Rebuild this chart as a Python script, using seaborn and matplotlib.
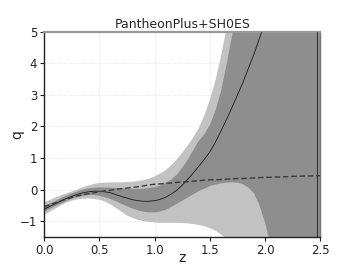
import numpy as np
import pandas as pd
import matplotlib
matplotlib.use("Agg")
import matplotlib.pyplot as plt
import seaborn as sns

# redshift grid and reconstructed deceleration parameter
z = [0.00, 0.05, 0.10, 0.15, 0.20, 0.25, 0.30, 0.35, 0.40, 0.45,
     0.50, 0.55, 0.60, 0.65, 0.70, 0.75, 0.80, 0.85, 0.90, 0.95,
     1.00, 1.05, 1.10, 1.15, 1.20, 1.25, 1.30, 1.35, 1.40, 1.45,
     1.50, 1.55, 1.60, 1.65, 1.70, 1.75, 1.80, 1.85, 1.90, 1.95,
     2.00, 2.05, 2.10, 2.15, 2.20, 2.25, 2.30, 2.35, 2.40, 2.45, 2.50]
q_mean = [-0.62, -0.53, -0.45, -0.36, -0.28, -0.21, -0.15, -0.10, -0.07, -0.05,
          -0.05, -0.07, -0.10, -0.16, -0.22, -0.27, -0.32, -0.35, -0.37, -0.37,
          -0.35, -0.31, -0.24, -0.14, -0.02, 0.14, 0.33, 0.53, 0.74, 0.96,
          1.20, 1.50, 1.85, 2.22, 2.60, 3.00, 3.40, 3.85, 4.30, 4.80,
          5.30, 5.85, 6.40, 7.00, 7.60, 8.25, 8.90, 9.60, 10.3, 11.0, 11.8]
q_lcdm = [-0.55, -0.48, -0.42, -0.36, -0.30, -0.25, -0.20, -0.16, -0.13, -0.10,
          -0.07, -0.04, -0.02, 0.01, 0.03, 0.05, 0.07, 0.09, 0.12, 0.15,
          0.17, 0.18, 0.20, 0.21, 0.23, 0.24, 0.25, 0.27, 0.28, 0.30,
          0.31, 0.31, 0.32, 0.33, 0.34, 0.35, 0.35, 0.36, 0.37, 0.38,
          0.39, 0.39, 0.40, 0.40, 0.41, 0.42, 0.42, 0.43, 0.43, 0.44, 0.44]
dark_lo = [-0.70, -0.61, -0.52, -0.44, -0.36, -0.29, -0.24, -0.20, -0.17, -0.17,
           -0.20, -0.24, -0.30, -0.37, -0.45, -0.53, -0.60, -0.66, -0.70, -0.72,
           -0.72, -0.69, -0.64, -0.55, -0.45, -0.35, -0.25, -0.15, -0.05, 0.03,
           0.11, 0.16, 0.20, 0.22, 0.23, 0.22, 0.17, 0.06, -0.12, -0.50,
           -1.05, -1.75, -2.50, -3.40, -4.50, -5.70, -7.00, -8.50, -10.0, -11.5, -13.0]
dark_hi = [-0.50, -0.44, -0.36, -0.27, -0.19, -0.12, -0.06, 0.00, 0.04, 0.06,
           0.07, 0.07, 0.06, 0.05, 0.04, 0.03, 0.02, 0.02, 0.03, 0.05,
           0.08, 0.13, 0.21, 0.32, 0.47, 0.70, 0.95, 1.25, 1.55, 1.75,
           2.05, 2.50, 3.10, 3.95, 4.85, 5.80, 6.80, 7.80, 8.80, 9.80,
           10.8, 12.0, 13.2, 14.5, 16.0, 17.5, 19.0, 20.5, 22.0, 23.5, 25.0]
light_lo = [-0.80, -0.70, -0.60, -0.50, -0.41, -0.35, -0.31, -0.29, -0.28, -0.29,
            -0.32, -0.38, -0.47, -0.58, -0.70, -0.82, -0.90, -0.96, -1.00, -1.02,
            -1.04, -1.05, -1.05, -1.05, -1.05, -1.06, -1.07, -1.09, -1.12, -1.16,
            -1.22, -1.30, -1.42, -1.55, -1.75, -2.00, -2.30, -2.60, -3.00, -3.50,
            -4.00, -4.70, -5.50, -6.50, -7.50, -8.70, -10.0, -11.5, -13.0, -14.5, -16.0]
light_hi = [-0.40, -0.33, -0.25, -0.18, -0.12, -0.06, 0.01, 0.08, 0.13, 0.18,
            0.21, 0.22, 0.23, 0.23, 0.23, 0.24, 0.25, 0.27, 0.30, 0.35,
            0.42, 0.51, 0.62, 0.77, 0.95, 1.17, 1.40, 1.66, 1.95, 2.35,
            2.85, 3.45, 4.20, 5.10, 6.10, 7.10, 8.10, 9.10, 10.1, 11.1,
            12.1, 13.3, 14.5, 15.8, 17.1, 18.5, 20.0, 21.5, 23.0, 24.5, 26.0]

df = pd.DataFrame({"z": z, "mean": q_mean, "lcdm": q_lcdm})

sns.set_theme(style="whitegrid")
plt.rcParams["font.family"] = ["DejaVu Sans"]

fig = plt.figure(figsize=(3.56, 2.67), dpi=100)
ax = fig.add_axes([0.1244, 0.1124, 0.7753, 0.7689])
ax.set_facecolor("white")

ax.fill_between(df["z"], light_lo, light_hi, color="#c2c2c2", lw=0, zorder=1)
ax.fill_between(df["z"], dark_lo, dark_hi, color="#8e8e8e", lw=0, zorder=2)
sns.lineplot(data=df, x="z", y="mean", ax=ax, color="#1a1a1a", lw=0.6, zorder=3)
sns.lineplot(data=df, x="z", y="lcdm", ax=ax, color="#3a3a3a", lw=1.0,
             linestyle=(0, (4, 2)), zorder=3)
ax.axvline(2.473, color="#333333", lw=0.8, zorder=3)

ax.set_xlim(0, 2.5)
ax.set_ylim(-1.5, 5)
ax.set_xticks([0.0, 0.5, 1.0, 1.5, 2.0, 2.5])
ax.set_yticks([-1, 0, 1, 2, 3, 4, 5])
ax.set_xticklabels(["0.0", "0.5", "1.0", "1.5", "2.0", "2.5"])
ax.set_yticklabels(["\u22121", "0", "1", "2", "3", "4", "5"])
ax.grid(True, color="#dddddd", linestyle=":", lw=0.6)
ax.set_axisbelow(True)

ax.tick_params(axis="both", labelsize=8.5, colors="#222222", length=3, width=0.8,
               left=True, bottom=True, pad=2)
for side in ["left", "bottom"]:
    ax.spines[side].set_color("#222222")
    ax.spines[side].set_linewidth(1.0)
ax.spines["top"].set_color("#999999")
ax.spines["top"].set_linewidth(1.6)
ax.spines["right"].set_color("#777777")
ax.spines["right"].set_linewidth(1.0)

ax.set_xlabel("z", fontsize=10, labelpad=-4)
ax.set_ylabel("q", fontsize=10, labelpad=-3)
ax.set_title("PantheonPlus+SH0ES", fontsize=9, pad=3)

fig.savefig("out.png", dpi=100)
